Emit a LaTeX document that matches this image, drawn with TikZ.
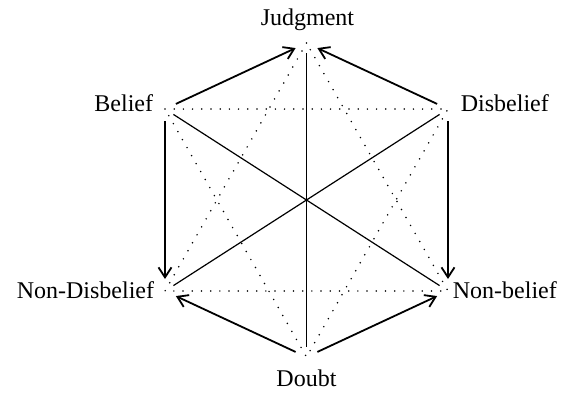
\documentclass[tikz,border=0pt]{standalone}
\usepackage{fontspec}
\setmainfont{Liberation Serif}
\usetikzlibrary{arrows.meta}
\tikzset{
  lbl/.style={inner sep=0pt,font=\fontsize{12}{14}\selectfont},
  turn/.style={-{Straight Barb[length=5pt,width=6.5pt,line width=0.9pt]},line width=0.9pt,shorten <=6pt,shorten >=6pt},
  cross/.style={line width=0.6pt,shorten <=5pt,shorten >=5pt},
  faint/.style={line width=0.85pt,line cap=round,dash pattern=on 0pt off 4.6pt}
}
\begin{document}
\begin{tikzpicture}[x=0.5pt,y=0.5pt]
  \useasboundingbox (-306.5,-198) rectangle (255.5,200);
  % corners of the hexagon
  \coordinate (J)  at (0,157);
  \coordinate (B)  at (-141.5,91);
  \coordinate (Dis) at (141.5,91);
  \coordinate (ND) at (-141.5,-91);
  \coordinate (NB) at (141.5,-91);
  \coordinate (D)  at (0,-157);
  % labels
  \node[lbl] (jt) at (1,180) {Judgment};
  \node[lbl,anchor=east] (bt) at (-153,97) {Belief};
  \node[lbl,anchor=west] (dist) at (154,97) {Disbelief};
  \node[lbl,anchor=east] (ndt) at (-152,-90) {Non-Disbelief};
  \node[lbl,anchor=west] (nbt) at (146,-90) {Non-belief};
  \node[lbl] (dt) at (0,-178) {Doubt};
  % two dotted triangles
  \draw[faint] (J) -- (ND) -- (NB) -- cycle;
  \draw[faint] (B) -- (Dis) -- (D) -- cycle;
  % diagonals
  \draw[cross] (B) -- (NB);
  \draw[cross] (Dis) -- (ND);
  \draw[cross] (J) -- (D);
  % arrows on the sides
  \draw[turn] (B) -- (J);
  \draw[turn] (Dis) -- (J);
  \draw[turn] (B) -- (ND);
  \draw[turn] (Dis) -- (NB);
  \draw[turn] (D) -- (ND);
  \draw[turn] (D) -- (NB);
\end{tikzpicture}
\end{document}
